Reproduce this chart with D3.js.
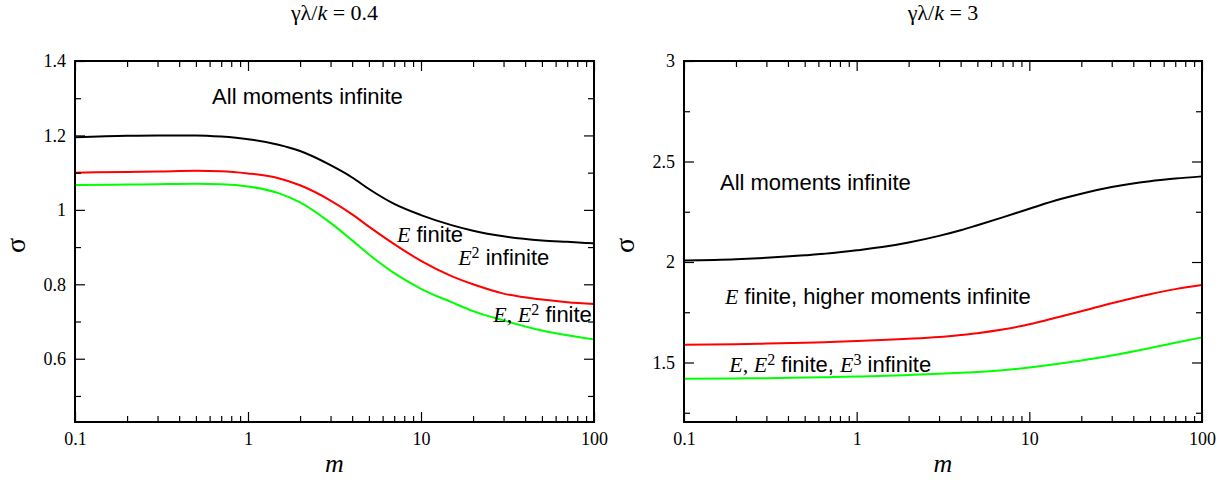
<!DOCTYPE html>
<html><head><meta charset="utf-8">
<script src="https://cdn.jsdelivr.net/npm/d3@7"></script>
<style>body{margin:0;background:#fff}svg{display:block}</style>
</head><body>
<svg id="chart" width="1227" height="482"></svg>
<script>
// ---------- data ----------
const mValues = [0.1,0.2,0.3,0.5,0.7,1,1.5,2,3,4,5,7,10,15,20,30,50,70,100];

const leftBlack = [1.195,1.199,1.200,1.200,1.197,1.190,1.175,1.158,1.120,1.087,1.056,1.016,0.986,0.959,0.944,0.929,0.918,0.914,0.910];
const leftRed   = [1.100,1.102,1.103,1.105,1.104,1.098,1.085,1.066,1.025,0.988,0.955,0.908,0.863,0.822,0.800,0.775,0.759,0.752,0.747];
const leftGreen = [1.067,1.068,1.069,1.070,1.069,1.063,1.045,1.020,0.965,0.918,0.880,0.830,0.788,0.752,0.728,0.703,0.676,0.663,0.652];

const rightBlack = [2.008,2.014,2.021,2.033,2.043,2.058,2.078,2.097,2.130,2.158,2.183,2.222,2.265,2.312,2.340,2.373,2.402,2.415,2.426];
const rightRed   = [1.588,1.591,1.594,1.598,1.602,1.607,1.613,1.618,1.627,1.637,1.646,1.664,1.690,1.728,1.755,1.795,1.840,1.865,1.886];
const rightGreen = [1.419,1.421,1.422,1.425,1.427,1.430,1.434,1.438,1.444,1.449,1.453,1.462,1.475,1.495,1.510,1.535,1.572,1.598,1.625];

const xMajor = [0.1,1,10,100];
const xTickLabels = ["0.1","1","10","100"];
const xMinor = [0.2,0.3,0.4,0.5,0.6,0.7,0.8,0.9,2,3,4,5,6,7,8,9,20,30,40,50,60,70,80,90];

const leftYMajor = [0.6,0.8,1.0,1.2,1.4];
const leftYLabels = ["0.6","0.8","1","1.2","1.4"];
const leftYMinor = [0.5,0.7,0.9,1.1,1.3];
const leftYDomain = [0.43,1.4];

const rightYMajor = [1.5,2,2.5,3];
const rightYLabels = ["1.5","2","2.5","3"];
const rightYMinor = [1.25,1.75,2.25,2.75];
const rightYDomain = [1.204,3];

const seriesColors = ["#000000","#ff0000","#00ff00"];

// ---------- drawing ----------
const SERIF = "'Liberation Serif','Times New Roman',serif";
const SANS = "'Liberation Sans',Arial,sans-serif";
const svg = d3.select("#chart");

function richText(g, x, y, segs) {
  const t = g.append("text").attr("x", x).attr("y", y).attr("fill", "#000");
  let raised = 0;
  segs.forEach(([str, kind]) => {
    const ts = t.append("tspan").text(str);
    if (kind === "it") ts.attr("font-family", SERIF).attr("font-style", "italic").attr("font-size", 22);
    else if (kind === "serif") ts.attr("font-family", SERIF).attr("font-size", 22);
    else if (kind === "sans") ts.attr("font-family", SANS).attr("font-size", 22);
    else if (kind === "sup") ts.attr("font-family", SERIF).attr("font-size", 16);
    const want = kind === "sup" ? -7 : 0;
    if (want !== raised) { ts.attr("dy", want - raised); raised = want; }
  });
  t.attr("xml:space", "preserve").style("white-space", "pre");
  return t;
}

function drawPanel(cfg) {
  const top = 61, bottom = 422;
  const x = d3.scaleLog().domain([0.1, 100]).range([cfg.x0, cfg.x1]);
  const y = d3.scaleLinear().domain(cfg.yDomain).range([bottom, top]);
  const g = svg.append("g");

  const line = d3.line().x(d => x(d[0])).y(d => y(d[1])).curve(d3.curveMonotoneX);
  cfg.series.forEach((vals, i) => {
    g.append("path")
      .datum(mValues.map((m, j) => [m, vals[j]]))
      .attr("d", line).attr("fill", "none")
      .attr("stroke", seriesColors[i]).attr("stroke-width", 2);
  });

  const style = sel => {
    sel.select(".domain").remove();
    sel.selectAll("line").attr("stroke", "#000").attr("stroke-width", 1.2);
    sel.selectAll("text").attr("font-family", SERIF).attr("font-size", 18).attr("fill", "#000");
  };
  const MAJ = 10, MIN = 6;
  // bottom
  g.append("g").attr("transform", `translate(0,${bottom})`)
    .call(d3.axisBottom(x).tickValues(xMajor).tickFormat((d, i) => xTickLabels[i]).tickSize(-MAJ).tickPadding(10)).call(style);
  g.append("g").attr("transform", `translate(0,${bottom})`)
    .call(d3.axisBottom(x).tickValues(xMinor).tickFormat("").tickSize(-MIN)).call(style);
  // top
  g.append("g").attr("transform", `translate(0,${top})`)
    .call(d3.axisTop(x).tickValues(xMajor).tickFormat("").tickSize(-MAJ)).call(style);
  g.append("g").attr("transform", `translate(0,${top})`)
    .call(d3.axisTop(x).tickValues(xMinor).tickFormat("").tickSize(-MIN)).call(style);
  // left
  g.append("g").attr("transform", `translate(${cfg.x0},0)`)
    .call(d3.axisLeft(y).tickValues(cfg.yMajor).tickFormat((d, i) => cfg.yLabels[i]).tickSize(-MAJ).tickPadding(9)).call(style);
  g.append("g").attr("transform", `translate(${cfg.x0},0)`)
    .call(d3.axisLeft(y).tickValues(cfg.yMinor).tickFormat("").tickSize(-MIN)).call(style);
  // right
  g.append("g").attr("transform", `translate(${cfg.x1},0)`)
    .call(d3.axisRight(y).tickValues(cfg.yMajor).tickFormat("").tickSize(-MAJ)).call(style);
  g.append("g").attr("transform", `translate(${cfg.x1},0)`)
    .call(d3.axisRight(y).tickValues(cfg.yMinor).tickFormat("").tickSize(-MIN)).call(style);

  g.append("rect").attr("x", cfg.x0).attr("y", top).attr("width", cfg.x1 - cfg.x0).attr("height", bottom - top)
    .attr("fill", "none").attr("stroke", "#000").attr("stroke-width", 2);

  const cx = (cfg.x0 + cfg.x1) / 2;
  // title
  const tt = g.append("text").attr("x", cx).attr("y", 20).attr("text-anchor", "middle")
    .attr("font-family", SERIF).attr("font-size", 22).attr("fill", "#000");
  tt.append("tspan").text("γλ/");
  tt.append("tspan").attr("font-style", "italic").text("k");
  tt.append("tspan").text(" = " + cfg.titleValue);
  // x label
  g.append("text").attr("x", cx).attr("y", 472).attr("text-anchor", "middle")
    .attr("font-family", SERIF).attr("font-style", "italic").attr("font-size", 26).attr("fill", "#000").text("m");
  // y label
  g.append("text").attr("transform", `translate(${cfg.x0 - 50},${(top + bottom) / 2 + 4}) rotate(-90)`)
    .attr("text-anchor", "middle").attr("font-family", SERIF).attr("font-size", 28).attr("fill", "#000").text("σ");

  cfg.notes.forEach(n => richText(g, x(n.m), y(n.s), n.segs));
}

drawPanel({
  x0: 75, x1: 594, yDomain: leftYDomain, yMajor: leftYMajor, yLabels: leftYLabels, yMinor: leftYMinor,
  series: [leftBlack, leftRed, leftGreen], titleValue: "0.4",
  notes: [
    { m: 0.62, s: 1.284, segs: [["All moments infinite", "sans"]] },
    { m: 7.26, s: 0.914, segs: [["E", "it"], [" finite", "sans"]] },
    { m: 16.4, s: 0.852, segs: [["E", "it"], ["2", "sup"], [" infinite", "sans"]] },
    { m: 26.2, s: 0.699, segs: [["E", "it"], [", ", "serif"], ["E", "it"], ["2", "sup"], [" finite", "sans"]] }
  ]
});

drawPanel({
  x0: 684, x1: 1202, yDomain: rightYDomain, yMajor: rightYMajor, yLabels: rightYLabels, yMinor: rightYMinor,
  series: [rightBlack, rightRed, rightGreen], titleValue: "3",
  notes: [
    { m: 0.1616, s: 2.358, segs: [["All moments infinite", "sans"]] },
    { m: 0.1727, s: 1.791, segs: [["E", "it"], [" finite, higher moments infinite", "sans"]] },
    { m: 0.183, s: 1.454, segs: [["E", "it"], [", ", "serif"], ["E", "it"], ["2", "sup"], [" finite, ", "sans"], ["E", "it"], ["3", "sup"], [" infinite", "sans"]] }
  ]
});
</script>
</body></html>
